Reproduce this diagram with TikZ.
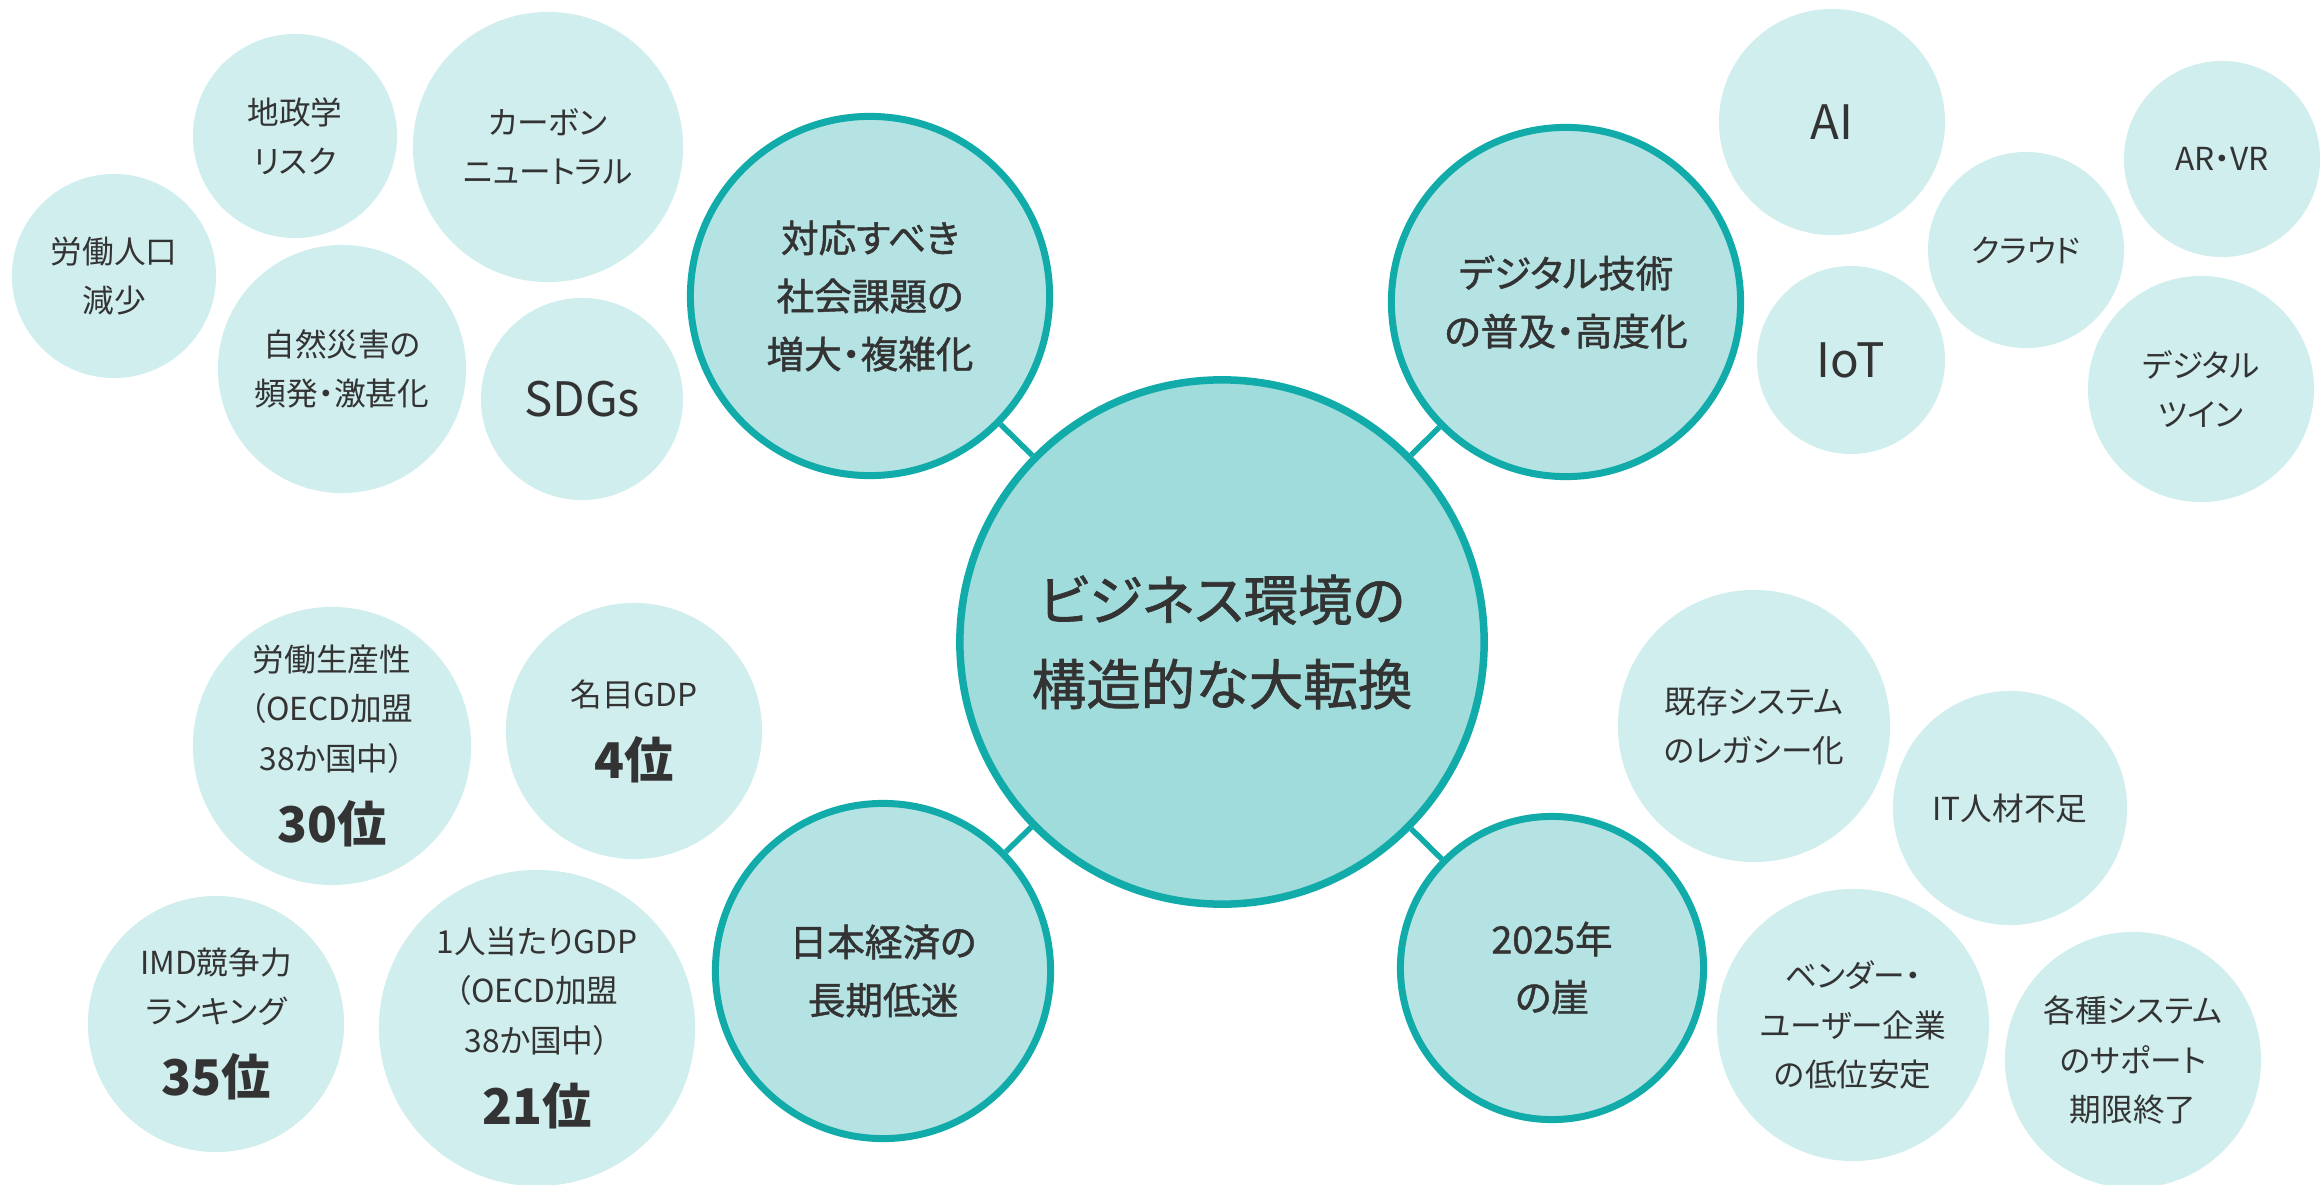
\documentclass[tikz,border=0pt]{standalone}
\usepackage{fontspec}
\setmainfont{Noto Sans CJK JP}[RawFeature=+palt]
\newfontfamily\medfont{Noto Sans CJK JP}[FakeBold=1.2,RawFeature=+palt]
\definecolor{ringcol}{RGB}{17,171,169}
\definecolor{mainfill}{RGB}{159,220,219}
\definecolor{hubfill}{RGB}{181,227,227}
\definecolor{smallfill}{RGB}{207,238,237}
\definecolor{txt}{RGB}{51,51,51}
\newcommand\rk[1]{{\fontsize{14}{14}\selectfont\bfseries #1}}
\begin{document}
\begin{tikzpicture}[x=0.01cm, y=-0.01cm,
  small/.style={circle, fill=smallfill, inner sep=0pt, align=center, text=txt, font=\fontsize{9}{14}\selectfont},
  bigtxt/.style={font=\fontsize{13.5}{16}\selectfont},
  hub/.style={circle, draw=ringcol, line width=0.07cm, fill=hubfill, inner sep=0pt, align=center, text=txt, font=\medfont\fontsize{10.7}{16.5}\selectfont},
  mainc/.style={circle, draw=ringcol, line width=0.075cm, fill=mainfill, inner sep=0pt, align=center, text=txt, font=\medfont\fontsize{15.5}{24}\selectfont},
  conn/.style={draw=ringcol, line width=0.055cm}]
\useasboundingbox (0,0) rectangle (2321,1185);
% main and hubs
\node[mainc, minimum size=5.24cm] (main) at (1222,642) {ビジネス環境の\\構造的な大転換};
\node[hub, minimum size=3.59cm] (tl) at (870,296) {対応すべき\\社会課題の\\増大・複雑化};
\node[hub, minimum size=3.49cm] (tr) at (1566,302) {デジタル技術\\の普及・高度化};
\node[hub, minimum size=3.35cm] (bl) at (883,971) {日本経済の\\長期低迷};
\node[hub, minimum size=3.03cm] (br) at (1552,968) {2025年\\の崖};
% top-left group
\node[small, minimum size=2.04cm] (geo) at (295,136) {地政学\\リスク};
\node[small, minimum size=2.70cm] (carbon) at (548,147) {カーボン\\ニュートラル};
\node[small, minimum size=2.04cm] (labor) at (114,276) {労働人口\\減少};
\node[small, minimum size=2.48cm] (disaster) at (342,369) {自然災害の\\頻発・激甚化};
\node[small, bigtxt, minimum size=2.02cm] (sdgs) at (582,399) {SDGs};
% top-right group
\node[small, bigtxt, minimum size=2.26cm] (ai) at (1832,122) {AI};
\node[small, bigtxt, minimum size=1.88cm] (iot) at (1851,360) {IoT};
\node[small, minimum size=1.96cm] (cloud) at (2026,250) {クラウド};
\node[small, minimum size=1.96cm] (arvr) at (2222,159) {AR・VR};
\node[small, minimum size=2.26cm] (twin) at (2201,389) {デジタル\\ツイン};
% bottom-left group
\node[small, minimum size=2.78cm] (prod) at (332,746) {労働生産性\\（OECD加盟\\38か国中）\\[6.5pt]\rk{30位}};
\node[small, minimum size=2.56cm] (ngdp) at (634,731) {名目GDP\\[6.5pt]\rk{4位}};
\node[small, minimum size=2.56cm] (imd) at (216,1024) {IMD競争力\\ランキング\\[6.5pt]\rk{35位}};
\node[small, minimum size=3.16cm] (pgdp) at (537,1028) {1人当たりGDP\\（OECD加盟\\38か国中）\\[6.5pt]\rk{21位}};
% bottom-right group
\node[small, minimum size=2.72cm] (legacy) at (1754,726) {既存システム\\のレガシー化};
\node[small, minimum size=2.34cm] (itjin) at (2010,808) {IT人材不足};
\node[small, minimum size=2.72cm] (vendor) at (1853,1025) {ベンダー・\\ユーザー企業\\の低位安定};
\node[small, minimum size=2.56cm] (support) at (2133,1060) {各種システム\\のサポート\\期限終了};
% connectors
\draw[conn] (main) -- (tl);
\draw[conn] (main) -- (tr);
\draw[conn] (main) -- (bl);
\draw[conn] (main) -- (br);
\end{tikzpicture}
\end{document}
